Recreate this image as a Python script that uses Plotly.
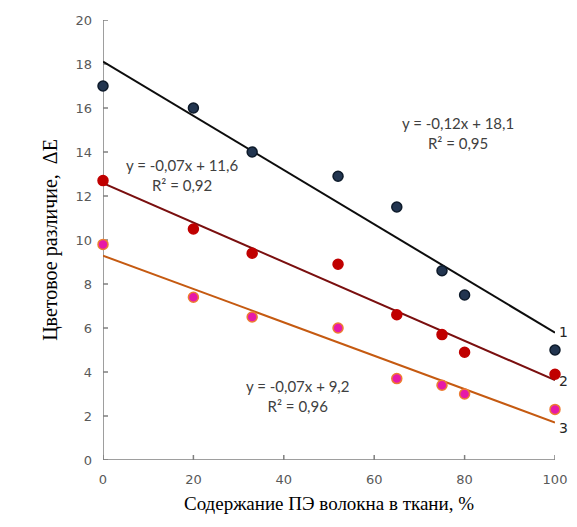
import numpy as np
import plotly.graph_objects as go

# Data
pe_content = [0, 20, 33, 52, 65, 75, 80, 100]
delta_e_1 = [17.0, 16.0, 14.0, 12.9, 11.5, 8.6, 7.5, 5.0]
delta_e_2 = [12.7, 10.5, 9.4, 8.9, 6.6, 5.7, 4.9, 3.9]
delta_e_3 = [9.8, 7.4, 6.5, 6.0, 3.7, 3.4, 3.0, 2.3]
series_labels = ["1", "2", "3"]
eq_texts = [
    "y = -0,12x + 18,1<br>R² = 0,95",
    "y = -0,07x + 11,6<br>R² = 0,92",
    "y = -0,07x + 9,2<br>R² = 0,96",
]
x_ticks = [0, 20, 40, 60, 80, 100]
y_ticks = [0, 2, 4, 6, 8, 10, 12, 14, 16, 18, 20]
x_range = [0, 100]
y_range = [0, 20]

series = [delta_e_1, delta_e_2, delta_e_3]
line_colors = ["#0d0d0d", "#7a0f0f", "#c55a11"]
marker_fill = ["#223550", "#c00000", "#e619a8"]
marker_line = ["#0d1a2a", "#c00000", "#ed7d31"]
axis_color = "#7f7f7f"

fig_w, fig_h = 569, 511
m_l, m_r, m_t, m_b = 95, 22, 12, 59
plot_w = fig_w - m_l - m_r
plot_h = fig_h - m_t - m_b
tick_px = 5

fig = go.Figure()

# Axis frame (L shape) drawn as a trace so it always renders under the markers
fig.add_trace(go.Scatter(
    x=[x_range[0], x_range[0], x_range[1]], y=[y_range[1], y_range[0], y_range[0]],
    mode="lines", cliponaxis=False, line=dict(color=axis_color, width=1.5),
    showlegend=False, hoverinfo="skip"))

# Inside tick marks
dy = tick_px * (y_range[1] - y_range[0]) / plot_h
dx = tick_px * (x_range[1] - x_range[0]) / plot_w
tx, ty = [], []
for t in x_ticks:
    tx += [t, t, None]
    ty += [y_range[0], y_range[0] + dy, None]
for t in y_ticks:
    tx += [x_range[0], x_range[0] + dx, None]
    ty += [t, t, None]
fig.add_trace(go.Scatter(x=tx, y=ty, mode="lines", cliponaxis=False,
                         line=dict(color=axis_color, width=1.5),
                         showlegend=False, hoverinfo="skip"))

x_fit = np.array(x_range)
for i, ys in enumerate(series):
    k, b = np.polyfit(pe_content, ys, 1)
    fig.add_trace(go.Scatter(
        x=x_fit, y=k * x_fit + b, mode="lines", cliponaxis=False,
        line=dict(color=line_colors[i], width=2), showlegend=False, hoverinfo="skip"))

for i, ys in enumerate(series):
    fig.add_trace(go.Scatter(
        x=pe_content, y=ys, mode="markers", cliponaxis=False,
        marker=dict(size=10, color=marker_fill[i], line=dict(color=marker_line[i], width=1.5)),
        showlegend=False))

# Equation annotations
eq_pos = [(78.5, 14.85), (17.5, 12.95), (43, 2.9)]
for (ax, ay), t in zip(eq_pos, eq_texts):
    fig.add_annotation(x=ax, y=ay, text=t, showarrow=False, xref="x", yref="y",
                       font=dict(family="Lato, Open Sans, sans-serif", size=15, color="#404040"),
                       align="center")

# Series number labels at right end
label_y = [5.8, 3.6, 1.45]
for lab, ly in zip(series_labels, label_y):
    fig.add_annotation(x=1.0, y=ly, xref="paper", yref="y", text=lab, showarrow=False,
                       xanchor="left", xshift=2,
                       font=dict(family="DejaVu Sans, sans-serif", size=14, color="#262626"))

tick_font = dict(family="DejaVu Sans, sans-serif", size=13, color="#595959")

fig.update_layout(
    template="none",
    width=fig_w, height=fig_h,
    # Page body has an 8px default margin; compensate so the chart lands where the reference has it.
    margin=dict(l=m_l, r=m_r, t=m_t, b=m_b),
    plot_bgcolor="white", paper_bgcolor="white",
    xaxis=dict(
        range=x_range, tickmode="array", tickvals=x_ticks,
        showgrid=False, zeroline=False, showline=False, ticks="",
        tickfont=tick_font, ticklabelstandoff=10,
        title=dict(text="Содержание ПЭ волокна в ткани, %",
                   font=dict(family="Liberation Serif, serif", size=19, color="#000000"),
                   standoff=10),
    ),
    yaxis=dict(
        range=y_range, tickmode="array", tickvals=y_ticks,
        showgrid=False, zeroline=False, showline=False, ticks="",
        tickfont=tick_font, ticklabelstandoff=10,
        title=dict(text="Цветовое различие,  ΔЕ",
                   font=dict(family="Liberation Serif, serif", size=20, color="#000000"),
                   standoff=12),
    ),
)

fig.write_html("out.html")
